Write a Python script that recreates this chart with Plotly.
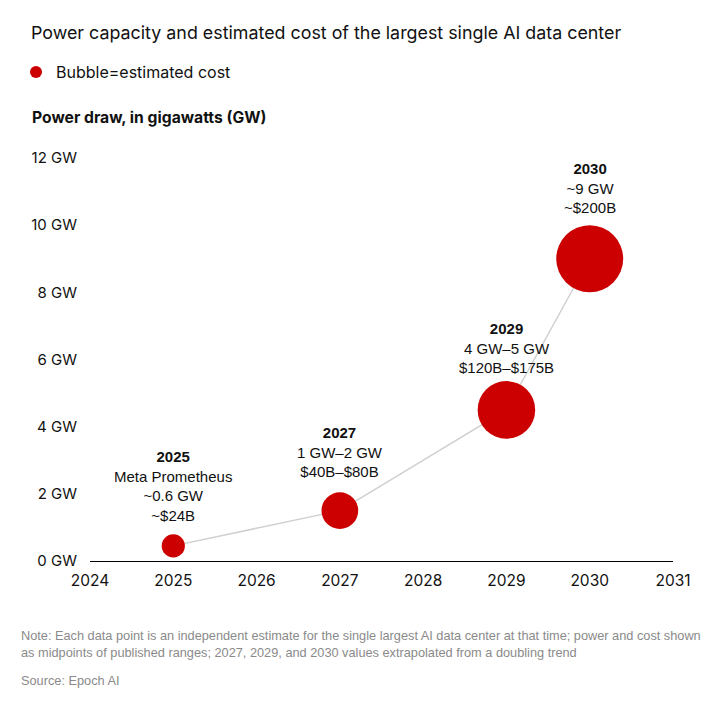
import math
import plotly.graph_objects as go

# ---- data ----
years = [2025, 2027, 2029, 2030]
power_gw = [0.45, 1.5, 4.5, 9.0]
cost_bn = [24, 60, 147.5, 200]
label_years = ["2025", "2027", "2029", "2030"]
label_lines = [
    ["Meta Prometheus", "~0.6 GW", "~$24B"],
    ["1 GW–2 GW", "$40B–$80B"],
    ["4 GW–5 GW", "$120B–$175B"],
    ["~9 GW", "~$200B"],
]
x_ticks = [2024, 2025, 2026, 2027, 2028, 2029, 2030, 2031]
y_ticks = [0, 2, 4, 6, 8, 10, 12]
y_tick_text = [f"{v} GW" for v in y_ticks]

RED = "#cc0000"
SANS = "Liberation Sans, Arial, sans-serif"
GEO = "Inter, Noto Sans, sans-serif"

W, H = 719, 708
L, R, T, B = 82, 54, 150, 155
PW, PH = W - L - R, H - T - B


def px(xp):
    return (xp - L) / PW


def py(yp):
    return (H - B - yp) / PH


MAX_D = 67.0  # diameter of the largest bubble, px
sizeref = 2 * max(cost_bn) / MAX_D ** 2

fig = go.Figure()
fig.add_trace(go.Scatter(
    x=years, y=power_gw, mode="lines",
    line=dict(color="#d0d0d0", width=1.5),
    showlegend=False, hoverinfo="skip",
))
fig.add_trace(go.Scatter(
    x=years, y=power_gw, mode="markers",
    name="Bubble=estimated cost",
    marker=dict(size=cost_bn, sizemode="area", sizeref=sizeref,
                color=RED, line=dict(width=0), opacity=1),
    showlegend=True, hoverinfo="skip",
))

gaps = [8, 10, 3.5, 7]
for yr, yv, c, ylab, lines, g in zip(years, power_gw, cost_bn, label_years, label_lines, gaps):
    d = MAX_D * math.sqrt(c / max(cost_bn))
    txt = f"<b>{ylab}</b><br>" + "<br>".join(lines)
    fig.add_annotation(
        x=yr, y=yv, xref="x", yref="y", text=txt, showarrow=False,
        yanchor="bottom", xanchor="center", yshift=d / 2 + g,
        font=dict(family=SANS, size=15, color="#111111"), align="center",
    )

fig.add_annotation(
    xref="paper", yref="paper", x=px(22), y=py(110),
    xanchor="left", yanchor="middle", showarrow=False,
    text="<b>Power draw, in gigawatts (GW)</b>",
    font=dict(family=GEO, size=15.7, color="#111111"),
)
fig.add_annotation(
    xref="paper", yref="paper", x=px(11), y=py(636),
    xanchor="left", yanchor="middle", showarrow=False, align="left",
    text=("Note: Each data point is an independent estimate for the single largest AI data center at that time; power and cost shown<br>"
          "as midpoints of published ranges; 2027, 2029, and 2030 values extrapolated from a doubling trend"),
    font=dict(family=SANS, size=12.75, color="#8a8a8a"),
)
fig.add_annotation(
    xref="paper", yref="paper", x=px(11), y=py(672),
    xanchor="left", yanchor="middle", showarrow=False, align="left",
    text="Source: Epoch AI",
    font=dict(family=SANS, size=12.75, color="#8a8a8a"),
)

fig.update_layout(
    width=W, height=H,
    paper_bgcolor="white", plot_bgcolor="white",
    margin=dict(l=L, r=R, t=T, b=B),
    title=dict(text="Power capacity and estimated cost of the largest single AI data center",
               xref="container", yref="container", x=23 / W, y=1 - 25 / H,
               xanchor="left", yanchor="middle",
               font=dict(family=GEO, size=17.85, color="#111111")),
    legend=dict(orientation="h", xref="container", yref="container",
                x=8 / W, y=1 - 64 / H, xanchor="left", yanchor="middle",
                itemsizing="constant", font=dict(family=GEO, size=16, color="#111111"),
                bgcolor="rgba(0,0,0,0)"),
    xaxis=dict(range=[2024, 2031], tickvals=x_ticks, ticktext=[str(t) for t in x_ticks],
               showgrid=False, zeroline=False, showline=True, linecolor="#000000", linewidth=1,
               ticks="", ticklabelstandoff=5,
               tickfont=dict(family=GEO, size=15.5, color="#111111"), fixedrange=True),
    yaxis=dict(range=[0, 12], tickvals=y_ticks, ticktext=y_tick_text,
               showgrid=False, zeroline=False, showline=False, ticks="",
               ticklabelstandoff=12,
               tickfont=dict(family=GEO, size=15, color="#111111"), fixedrange=True),
    showlegend=True,
)

fig.write_html("out.html")
